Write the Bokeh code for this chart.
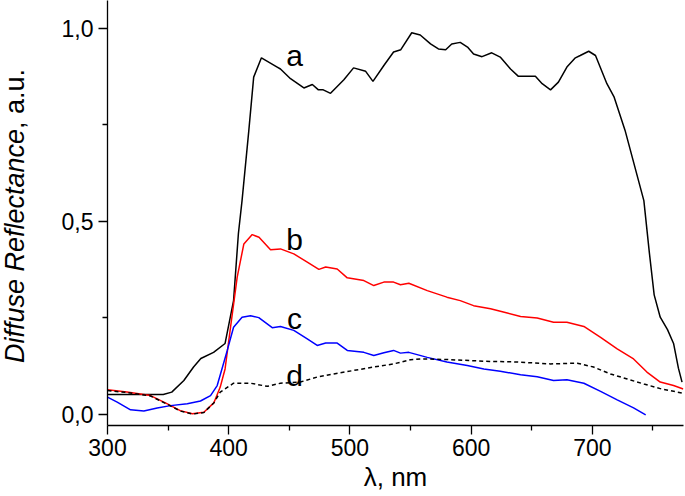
from bokeh.plotting import figure
from bokeh.models import Range1d, FixedTicker, Label, Div
from bokeh.layouts import row
from bokeh.embed import file_html
from bokeh.resources import INLINE

# ---------------- data ----------------
a_x = [300, 346, 353, 363, 371, 377, 387.5, 397, 404, 408, 411, 416.6, 420.6, 427, 440, 442.7, 451, 462, 469, 474,
       478, 484, 495, 503, 513, 519, 528, 536, 542, 551, 558, 566.5, 573, 579, 584, 591, 597, 602, 609, 617, 624,
       632.5, 639, 653, 658.6, 665.5, 672, 679, 686, 690, 697, 702.6, 712, 718, 727, 742.5, 747, 751, 756, 762, 767,
       771, 774]
a_y = [0.052, 0.052, 0.058, 0.088, 0.123, 0.145, 0.161, 0.184, 0.295, 0.469, 0.554, 0.736, 0.874, 0.924, 0.900,
       0.895, 0.870, 0.846, 0.855, 0.841, 0.841, 0.832, 0.867, 0.898, 0.889, 0.863, 0.904, 0.939, 0.945, 0.989,
       0.983, 0.960, 0.947, 0.945, 0.960, 0.964, 0.952, 0.934, 0.927, 0.937, 0.926, 0.895, 0.876, 0.876, 0.857,
       0.841, 0.861, 0.900, 0.924, 0.930, 0.941, 0.930, 0.857, 0.822, 0.736, 0.554, 0.420, 0.310, 0.252, 0.220,
       0.184, 0.120, 0.084]

b_x = [300, 316, 335.5, 349, 360, 370, 379.5, 387.7, 393, 397, 401.5, 407, 412.5, 419.4, 425, 434.5, 442.7, 453.7,
       464.8, 474.4, 480, 489.5, 497.8, 511.5, 519.7, 528, 536, 541.7, 548.6, 563.8, 580, 591, 602, 616, 629.8,
       640.8, 654.5, 668, 679, 693, 706.8, 720.5, 734, 745, 756, 767, 775]
b_y = [0.064, 0.058, 0.049, 0.028, 0.010, 0.002, 0.006, 0.030, 0.071, 0.118, 0.226, 0.356, 0.442, 0.466, 0.459,
       0.427, 0.429, 0.416, 0.395, 0.376, 0.382, 0.377, 0.354, 0.347, 0.334, 0.343, 0.343, 0.336, 0.340, 0.321,
       0.304, 0.295, 0.282, 0.274, 0.263, 0.254, 0.250, 0.239, 0.239, 0.228, 0.200, 0.170, 0.144, 0.110, 0.084,
       0.075, 0.066]

c_x = [300, 308, 319, 330, 341, 352, 365.8, 376.7, 385, 390.5, 398.8, 404, 411, 418, 424.8, 435.9, 442.7, 453.7,
       464.8, 473, 480, 489.5, 497.8, 511.5, 519.7, 528, 536, 541.7, 548.6, 563.8, 580, 596.8, 610.5, 624, 640.8,
       654.5, 668, 679, 693, 706.8, 720.5, 734, 744]
c_y = [0.045, 0.032, 0.012, 0.009, 0.017, 0.023, 0.028, 0.035, 0.049, 0.075, 0.166, 0.226, 0.252, 0.256, 0.251,
       0.225, 0.228, 0.218, 0.196, 0.179, 0.185, 0.185, 0.166, 0.161, 0.153, 0.160, 0.166, 0.159, 0.161, 0.148,
       0.136, 0.127, 0.118, 0.112, 0.103, 0.098, 0.088, 0.090, 0.081, 0.060, 0.038, 0.017, -0.001]

d_x = [300, 316, 335.5, 349, 360, 370, 379.5, 387.7, 393, 404, 412.5, 418, 431.8, 442.7, 459, 473, 486.7, 503,
       519.7, 536, 550, 561, 583, 610.5, 638, 665.5, 687.5, 701, 715, 728.8, 742.5, 756, 775]
d_y = [0.062, 0.057, 0.048, 0.027, 0.009, 0.001, 0.005, 0.030, 0.058, 0.081, 0.081, 0.081, 0.073, 0.081, 0.084,
       0.097, 0.105, 0.114, 0.123, 0.131, 0.142, 0.144, 0.142, 0.138, 0.136, 0.131, 0.133, 0.123, 0.105, 0.092,
       0.079, 0.067, 0.055]

curve_names = ["a", "b", "c", "d"]
curve_label_x = [454.3, 454.3, 454.3, 454.3]
curve_label_y = [0.930, 0.453, 0.249, 0.101]

x_major_ticks = [300, 400, 500, 600, 700]
x_minor_ticks = [350, 450, 550, 650, 750]
y_major_ticks = [0.0, 0.5, 1.0]
y_minor_ticks = [0.25, 0.75]
y_tick_labels = ["0,0", "0,5", "1,0"]

x_title = "λ, nm"
y_title_italic = "Diffuse Reflectance"
y_title_plain = ", a.u."

# ---------------- layout ----------------
FONT = "Liberation Sans"
W, H = 685, 496
TITLE_W = 30
LEFT, RIGHT, TOP, BOTTOM = 107, 2, 0, 71
X0, X1 = 300, 775.2
Y0, Y1 = -0.0285, 1.0725

p = figure(width=W - TITLE_W, height=H, output_backend="svg", toolbar_location=None,
           x_range=Range1d(X0, X1), y_range=Range1d(Y0, Y1),
           min_border_left=LEFT - TITLE_W, min_border_right=RIGHT,
           min_border_top=TOP, min_border_bottom=BOTTOM)
p.outline_line_color = None
p.xgrid.visible = False
p.ygrid.visible = False
p.background_fill_color = "white"
p.border_fill_color = "white"

for ax in (p.xaxis[0], p.yaxis[0]):
    ax.axis_line_color = "black"
    ax.axis_line_width = 1.3
    ax.major_tick_line_color = "black"
    ax.minor_tick_line_color = "black"
    ax.major_tick_line_width = 1.3
    ax.minor_tick_line_width = 1.3
    ax.major_tick_in = 0
    ax.major_tick_out = 9
    ax.minor_tick_in = 0
    ax.minor_tick_out = 5
    ax.major_label_text_font = FONT
    ax.major_label_text_font_size = "23px"
    ax.major_label_text_color = "black"

p.xaxis[0].ticker = FixedTicker(ticks=x_major_ticks, minor_ticks=x_minor_ticks)
p.yaxis[0].ticker = FixedTicker(ticks=y_major_ticks, minor_ticks=y_minor_ticks)
p.yaxis[0].major_label_overrides = {t: l for t, l in zip(y_major_ticks, y_tick_labels)}
p.xaxis[0].major_label_standoff = 4
p.yaxis[0].major_label_standoff = 5

p.xaxis[0].axis_label = x_title
p.xaxis[0].axis_label_text_font = FONT
p.xaxis[0].axis_label_text_font_size = "26px"
p.xaxis[0].axis_label_text_font_style = "normal"
p.xaxis[0].axis_label_text_color = "black"
p.xaxis[0].axis_label_standoff = 3

p.line(a_x, a_y, line_color="black", line_width=1.5)
p.line(b_x, b_y, line_color="#ff0000", line_width=1.5)
p.line(c_x, c_y, line_color="#0000ff", line_width=1.5)
p.line(d_x, d_y, line_color="black", line_width=1.5, line_dash="4 3")

for name, lx, ly in zip(curve_names, curve_label_x, curve_label_y):
    p.add_layout(Label(x=lx, y=ly, text=name, text_font=FONT, text_font_size="30px",
                       text_align="center", text_baseline="alphabetic", text_color="black"))

# y-axis title with mixed styles (italic + normal), rotated, as real HTML text
span_len = 432
y_title_html = (
    f'<div style="width:{span_len}px;height:30px;line-height:30px;transform-origin:0 0;'
    f'transform:translate(0px,{span_len}px) rotate(-90deg);text-align:center;white-space:nowrap;'
    f"font-family:'{FONT}';font-size:27px;color:black;margin:0;padding:0;\">"
    f'<i>{y_title_italic}</i>{y_title_plain}</div>'
)
ytitle = Div(text=y_title_html, width=TITLE_W, height=H, margin=0)

layout = row(ytitle, p, spacing=0)
open("out.html", "w").write(file_html(layout, INLINE))
